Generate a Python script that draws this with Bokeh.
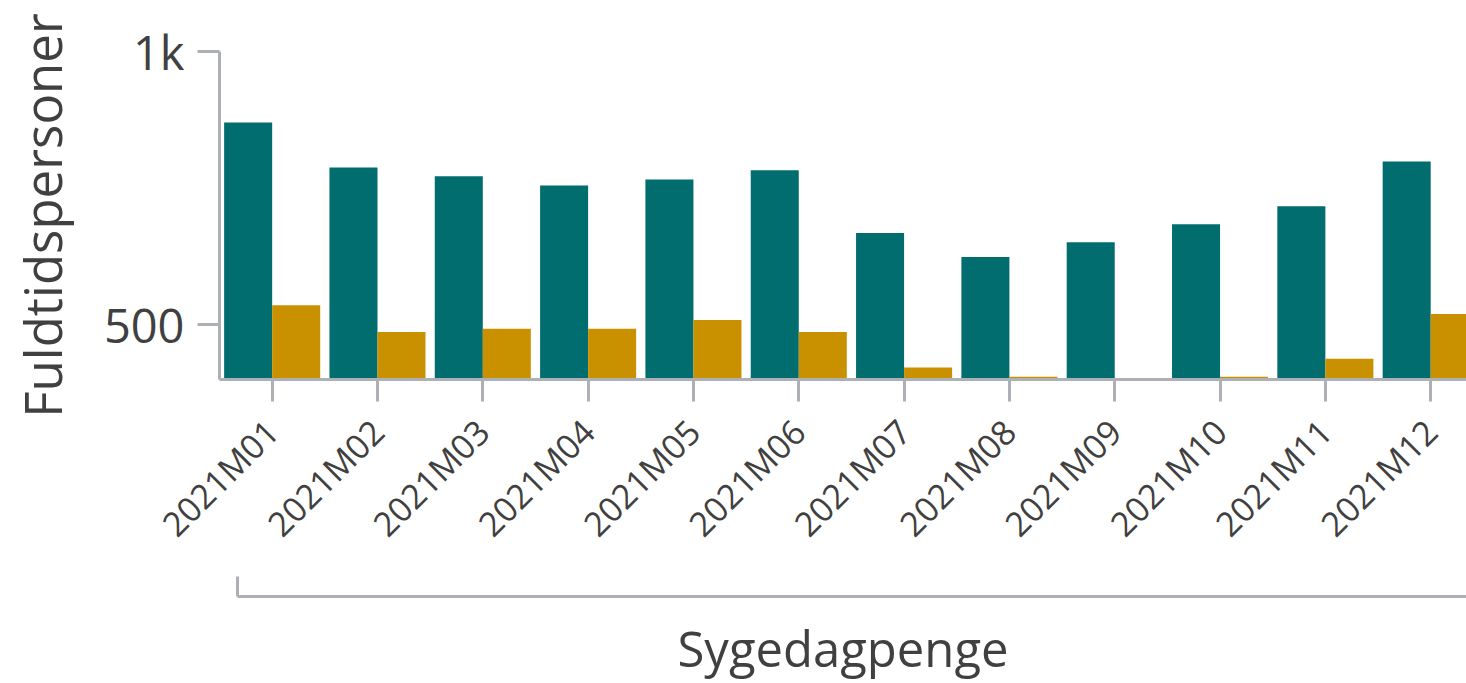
import math
from bokeh.plotting import figure
from bokeh.models import LinearAxis, FixedTicker, Range1d, ColumnDataSource
from bokeh.embed import file_html
from bokeh.resources import INLINE

months = ["2021M01", "2021M02", "2021M03", "2021M04", "2021M05", "2021M06",
          "2021M07", "2021M08", "2021M09", "2021M10", "2021M11", "2021M12"]
series_a = [870, 788, 772, 755, 766, 783, 668, 624, 651, 684, 717, 799]
series_b = [536, 487, 493, 493, 509, 487, 422, 405, 398, 405, 438, 520]
group_label = "Sygedagpenge"
y_title = "Fuldtidspersoner"
y_ticks = [500, 1000]
y_tick_labels = ["500", "1k"]

TEAL = "#016D6F"
GOLD = "#C99100"
AXIS = "#ADB1B6"
TEXT = "#404040"
FONT = "Open Sans"

idx = list(range(len(months)))
src = ColumnDataSource(dict(
    xa=[i - 0.228 for i in idx], xb=[i + 0.228 for i in idx],
    a=series_a, b=series_b))

p = figure(width=1466, height=683, output_backend="svg", toolbar_location=None,
           x_axis_type=None, y_axis_type=None,
           x_range=Range1d(-0.5, 11.34), y_range=Range1d(400, 1000),
           min_border_left=219, min_border_right=0, min_border_top=51,
           min_border_bottom=303, outline_line_color=None,
           background_fill_color="white", border_fill_color="white")
p.xgrid.visible = False
p.ygrid.visible = False

p.vbar(x="xa", top="a", bottom=0, width=0.456, source=src,
       fill_color=TEAL, line_color=None)
p.vbar(x="xb", top="b", bottom=0, width=0.456, source=src,
       fill_color=GOLD, line_color=None)

# y axis
ya = LinearAxis(ticker=FixedTicker(ticks=y_ticks),
                major_label_overrides={t: l for t, l in zip(y_ticks, y_tick_labels)})
ya.axis_line_color = AXIS
ya.axis_line_width = 3
ya.major_tick_line_color = AXIS
ya.major_tick_line_width = 3
ya.major_tick_out = 22
ya.major_tick_in = 0
ya.minor_tick_line_color = None
ya.major_label_standoff = 13
ya.major_label_text_font = FONT
ya.major_label_text_font_size = "47px"
ya.major_label_text_color = TEXT
ya.axis_label = y_title
ya.axis_label_text_font = FONT
ya.axis_label_text_font_size = "51px"
ya.axis_label_text_font_style = "normal"
ya.axis_label_text_color = TEXT
ya.axis_label_standoff = 24
p.add_layout(ya, "left")

# category axis
xa = LinearAxis(ticker=FixedTicker(ticks=idx),
                major_label_overrides={i: m for i, m in zip(idx, months)})
xa.axis_line_color = AXIS
xa.axis_line_width = 3
xa.major_tick_line_color = AXIS
xa.major_tick_line_width = 3
xa.major_tick_out = 22
xa.major_tick_in = 0
xa.minor_tick_line_color = None
xa.major_label_orientation = math.pi / 4
xa.major_label_standoff = 24
xa.major_label_text_font = FONT
xa.major_label_text_font_size = "34px"
xa.major_label_text_color = TEXT
p.add_layout(xa, "below")

# invisible spacer axis
sp = LinearAxis(ticker=FixedTicker(ticks=[5]), major_label_overrides={5: ""})
sp.axis_line_color = None
sp.major_tick_line_alpha = 0
sp.minor_tick_line_color = None
sp.major_tick_out = 31
sp.major_tick_in = 0
sp.major_label_standoff = 0
sp.major_label_text_font_size = "1px"
sp.major_label_text_alpha = 0
p.add_layout(sp, "below")

# group bracket axis
gx0 = -0.33
ga = LinearAxis(ticker=FixedTicker(ticks=[gx0]), bounds=(gx0, 11.34),
                major_label_overrides={gx0: ""})
ga.axis_line_color = AXIS
ga.axis_line_width = 3
ga.major_tick_line_color = AXIS
ga.major_tick_line_width = 3
ga.major_tick_in = 20
ga.major_tick_out = 0
ga.minor_tick_line_color = None
ga.major_label_text_font_size = "1px"
ga.major_label_standoff = 0
ga.axis_label = group_label
ga.axis_label_text_font = FONT
ga.axis_label_text_font_size = "49px"
ga.axis_label_text_font_style = "normal"
ga.axis_label_text_color = TEXT
ga.axis_label_standoff = 18
p.add_layout(ga, "below")

open("out.html", "w").write(file_html(p, INLINE))
